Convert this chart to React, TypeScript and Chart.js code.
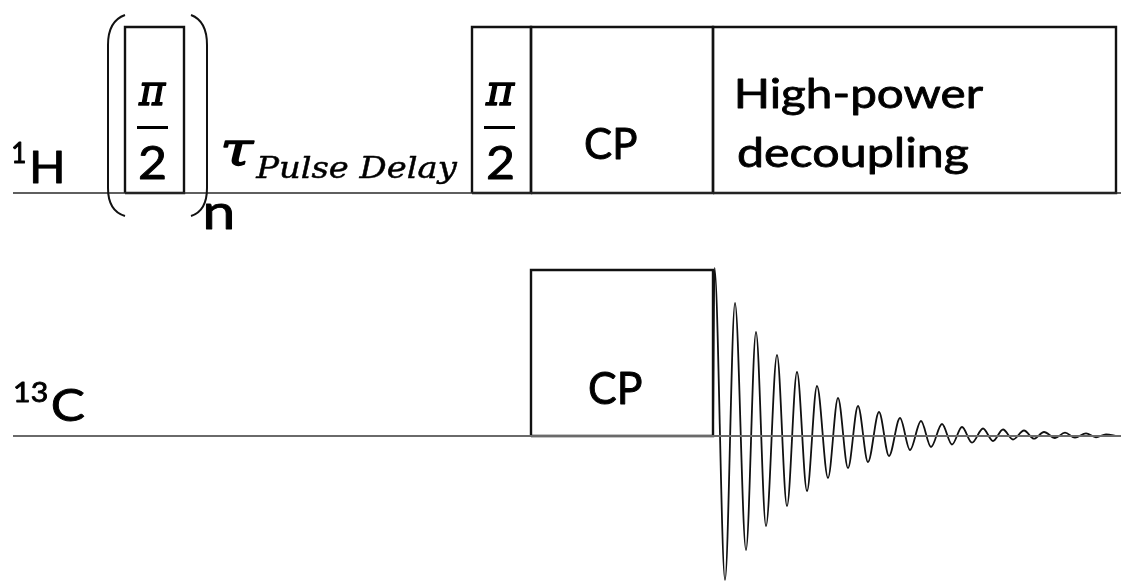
import React, { useEffect, useRef } from "react";
import { Chart, registerables } from "chart.js";

Chart.register(...registerables);

// Channel baselines on the amplitude axis (1H on top, 13C below)
const channelNames = ["1H", "13C"];
const channelBaselines = [389, 146];
const sequenceStart = 13;
const sequenceEnd = 1121;
const pulseHeight = 166;

// 1H pulse blocks: repeated π/2 saturation pulse, π/2 excitation, CP contact, decoupling
const protonPulseStarts = [125, 472, 531, 713];
const protonPulseEnds = [184, 531, 713, 1116];

// 13C pulse blocks: CP contact
const carbonPulseStarts = [531];
const carbonPulseEnds = [713];

// 13C free induction decay: successive extrema of the detected signal
const fidTimes = [
  713, 714.5, 725, 735, 746, 756, 766, 777, 787, 797, 807, 817, 828, 838, 848,
  858, 868, 879, 889, 900, 910, 921, 931, 942, 952, 962, 972, 983, 993, 1003,
  1013, 1024, 1034, 1044, 1055, 1065, 1075, 1086, 1096, 1106, 1117,
];
const fidAmplitudes = [
  0, 168, -144, 133, -114, 104, -90, 81, -70, 64, -55, 50, -42, 38, -32, 30,
  -26, 24, -20, 18, -14, 15, -11, 12, -8.5, 9, -6.7, 7.5, -5, 6.5, -3.5, 5.5,
  -2.7, 4, -2, 3.3, -1.7, 2.7, -1.3, 1.7, 0,
];

const SANS = "Lato";
const SERIF = "'DejaVu Serif'";

type Pt = { x: number; y: number };

function pulseOutline(start: number, end: number, base: number): Pt[] {
  return [
    { x: start, y: base },
    { x: start, y: base + pulseHeight },
    { x: end, y: base + pulseHeight },
    { x: end, y: base },
    { x: start, y: base },
  ];
}

// Draws text so that its ink fills the given box (left, top, right, baseline);
// `weight` adds an outline (in pixels) to thicken the strokes.
function drawInk(
  ctx: CanvasRenderingContext2D,
  text: string,
  font: string,
  left: number,
  top: number,
  right: number,
  baseline: number,
  weight = 0.9
) {
  ctx.save();
  ctx.font = font;
  ctx.textAlign = "left";
  ctx.textBaseline = "alphabetic";
  const m = ctx.measureText(text);
  const inkW = m.actualBoundingBoxLeft + m.actualBoundingBoxRight;
  const inkH = m.actualBoundingBoxAscent;
  const sx = (right - left) / inkW;
  const sy = (baseline - top) / inkH;
  ctx.translate(left + m.actualBoundingBoxLeft * sx, baseline);
  ctx.scale(sx, sy);
  ctx.fillStyle = "#000";
  ctx.fillText(text, 0, 0);
  if (weight > 0) {
    ctx.strokeStyle = "#000";
    ctx.lineJoin = "round";
    ctx.lineWidth = weight / ((sx + sy) / 2);
    ctx.strokeText(text, 0, 0);
  }
  ctx.restore();
}

const sequenceLabels = {
  id: "sequenceLabels",
  afterDatasetsDraw(chart: any) {
    const ctx: CanvasRenderingContext2D = chart.ctx;
    const xs = chart.scales.x;
    const ys = chart.scales.y;
    const px = (t: number) => xs.getPixelForValue(t);
    const py = (v: number) => ys.getPixelForValue(v);

    // Brackets around the repeated saturation pulse
    const hBase = channelBaselines[0];
    const l = px(protonPulseStarts[0]);
    const r = px(protonPulseEnds[0]);
    const top = py(hBase + pulseHeight) - 12;
    const bot = py(hBase) + 23;
    ctx.save();
    ctx.strokeStyle = "#111";
    ctx.lineWidth = 2;
    ctx.beginPath();
    ctx.moveTo(l, top);
    ctx.quadraticCurveTo(l - 17, top + 6, l - 17, top + 30);
    ctx.lineTo(l - 17, bot - 28);
    ctx.quadraticCurveTo(l - 17, bot - 5, l, bot);
    ctx.moveTo(r + 7, top);
    ctx.quadraticCurveTo(r + 23, top + 6, r + 23, top + 30);
    ctx.lineTo(r + 23, bot - 28);
    ctx.quadraticCurveTo(r + 23, bot - 5, r + 7, bot);
    ctx.stroke();

    // Fraction bars of the π/2 labels
    ctx.lineWidth = 3;
    ctx.strokeStyle = "#000";
    ctx.beginPath();
    ctx.moveTo(137, 127.5);
    ctx.lineTo(168, 127.5);
    ctx.moveTo(484, 127.5);
    ctx.lineTo(515, 127.5);
    ctx.stroke();
    ctx.restore();

    // Channel names
    drawInk(ctx, "1", `48px ${SANS}`, 13, 142, 25, 163);
    drawInk(ctx, "H", `48px ${SANS}`, 33, 150, 62, 183);
    drawInk(ctx, "13", `48px ${SANS}`, 15, 382, 47, 402);
    drawInk(ctx, "C", `48px ${SANS}`, 53, 388, 85, 421);

    // Repetition count
    drawInk(ctx, "n", `48px ${SANS}`, 206, 204, 232, 229);

    // π/2 pulses
    drawInk(ctx, "π", `italic 40px ${SERIF}`, 138, 84, 166, 105, 1.3);
    drawInk(ctx, "2", `48px ${SANS}`, 140, 145, 165, 179);
    drawInk(ctx, "π", `italic 40px ${SERIF}`, 485, 84, 515, 105, 1.3);
    drawInk(ctx, "2", `48px ${SANS}`, 488, 145, 513, 179);

    // Delay
    drawInk(ctx, "τ", `italic 44px ${SERIF}`, 223, 141, 254, 165, 1.6);
    drawInk(ctx, "Pulse Delay", `italic 30px ${SERIF}`, 255, 156, 458, 178, 0.5);

    // Block names
    drawInk(ctx, "CP", `44px ${SANS}`, 586, 128, 637, 159);
    drawInk(ctx, "High-power", `44px ${SANS}`, 738, 78, 983, 108);
    drawInk(ctx, "decoupling", `44px ${SANS}`, 738, 136, 968, 167);
    drawInk(ctx, "CP", `44px ${SANS}`, 590, 372, 642, 404);
  },
};

export default function App() {
  const canvasRef = useRef<HTMLCanvasElement | null>(null);

  useEffect(() => {
    document.body.style.margin = "0";
    document.body.style.background = "#fff";
    const canvas = canvasRef.current;
    if (!canvas) return;

    const datasets: any[] = [];

    // Channel baselines
    channelBaselines.forEach((base, i) => {
      datasets.push({
        label: channelNames[i],
        data: [
          { x: sequenceStart, y: base },
          { x: sequenceEnd, y: base },
        ],
        borderColor: i === 0 ? "#2a2a2a" : "#6a6a6a",
        borderWidth: i === 0 ? 1.6 : 2.2,
        pointRadius: 0,
        tension: 0,
      });
    });

    // Pulse blocks
    protonPulseStarts.forEach((s, i) => {
      datasets.push({
        label: `1H pulse ${i + 1}`,
        data: pulseOutline(s, protonPulseEnds[i], channelBaselines[0]),
        borderColor: "#111",
        borderWidth: 2.4,
        borderJoinStyle: "miter",
        pointRadius: 0,
        tension: 0,
      });
    });
    carbonPulseStarts.forEach((s, i) => {
      datasets.push({
        label: `13C pulse ${i + 1}`,
        data: pulseOutline(s, carbonPulseEnds[i], channelBaselines[1]),
        borderColor: "#111",
        borderWidth: 2.4,
        borderJoinStyle: "miter",
        pointRadius: 0,
        tension: 0,
      });
    });

    // FID
    datasets.push({
      label: "FID",
      data: fidTimes.map((t, i) => ({ x: t, y: channelBaselines[1] + fidAmplitudes[i] })),
      borderColor: "#111",
      borderWidth: 1.8,
      pointRadius: 0,
      cubicInterpolationMode: "monotone",
    });

    const chart = new Chart(canvas, {
      type: "line",
      data: { datasets },
      options: {
        responsive: false,
        maintainAspectRatio: false,
        animation: false,
        layout: { padding: 0 },
        plugins: {
          legend: { display: false },
          tooltip: { enabled: false },
        },
        scales: {
          x: { type: "linear", min: 0, max: 1125, display: false },
          y: { type: "linear", min: 0, max: 582, display: false },
        },
      },
      plugins: [sequenceLabels],
    });

    return () => chart.destroy();
  }, []);

  return (
    <canvas
      ref={canvasRef}
      width={1125}
      height={582}
      style={{ display: "block", width: 1125, height: 582, background: "#fff" }}
    />
  );
}
